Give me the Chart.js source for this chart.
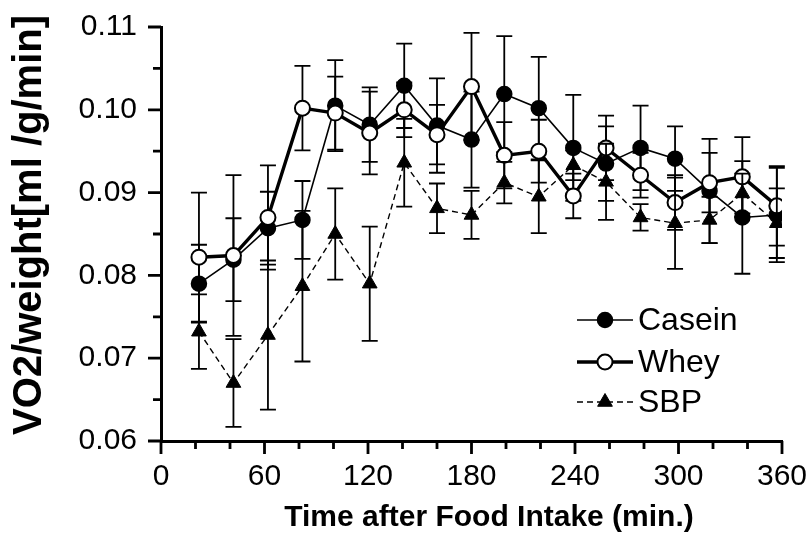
<!DOCTYPE html>
<html>
<head>
<meta charset="utf-8">
<script src="https://cdn.jsdelivr.net/npm/chart.js@4.4.1/dist/chart.umd.min.js"></script>
<style>
  html, body { margin: 0; padding: 0; background: #fff; }
  #wrap { width: 811px; height: 534px; }
</style>
</head>
<body>
<div id="wrap"><canvas id="myChart" width="811" height="534"></canvas></div>
<script>
// sampling times, min after food intake
const times = [22, 42, 62, 82, 101, 121, 141, 160, 180, 199, 219, 239, 258, 278, 298, 318, 337, 357];

// VO2/weight means and error half-widths per diet
const casein    = [0.0790, 0.0819, 0.0857, 0.0867, 0.1005, 0.0982, 0.1029, 0.0981, 0.0964, 0.1019, 0.1002, 0.0954, 0.0935, 0.0954, 0.0941, 0.0902, 0.0870, 0.0873];
const caseinErr = [0.0047, 0.0050, 0.0044, 0.0047, 0.0055, 0.0045, 0.0051, 0.0057, 0.0058, 0.0070, 0.0062, 0.0064, 0.0045, 0.0051, 0.0039, 0.0063, 0.0068, 0.0057];

const whey    = [0.0822, 0.0824, 0.0870, 0.1002, 0.0996, 0.0972, 0.1000, 0.0970, 0.1028, 0.0945, 0.0950, 0.0896, 0.0954, 0.0921, 0.0888, 0.0912, 0.0919, 0.0884];
const wheyErr = [0.0078, 0.0097, 0.0063, 0.0051, 0.0044, 0.0050, 0.0033, 0.0036, 0.0065, 0.0040, 0.0038, 0.0027, 0.0039, 0.0027, 0.0033, 0.0036, 0.0048, 0.0048];

const sbp    = [0.0732, 0.0670, 0.0728, 0.0787, 0.0850, 0.0790, 0.0936, 0.0881, 0.0873, 0.0912, 0.0895, 0.0933, 0.0913, 0.0870, 0.0863, 0.0867, 0.0899, 0.0863];
const sbpErr = [0.0045, 0.0053, 0.0090, 0.0091, 0.0055, 0.0069, 0.0053, 0.0030, 0.0029, 0.0025, 0.0044, 0.0018, 0.0046, 0.0016, 0.0055, 0.0028, 0.0024, 0.0042];

const xMajor = [0, 60, 120, 180, 240, 300, 360];
const xMinor = [20, 40, 80, 100, 140, 160, 200, 220, 260, 280, 320, 340];
const yMajor = [0.06, 0.07, 0.08, 0.09, 0.10, 0.11];
const yMinor = [0.065, 0.075, 0.085, 0.095, 0.105];

const FONT = '"Liberation Sans", Arial, Helvetica, sans-serif';

function toPoints(ys) {
    return times.map((t, i) => ({ x: t, y: ys[i] }));
}

// vertical error bars with caps, drawn just under each series
const errorBars = {
    id: 'errorBars',
    beforeDatasetDraw(chart, args) {
        const ds = chart.data.datasets[args.index];
        if (!ds.errors) return;
        const ctx = chart.ctx;
        const y = chart.scales.y;
        ctx.save();
        ctx.strokeStyle = '#000';
        ctx.lineWidth = 1.8;
        ctx.setLineDash([]);
        args.meta.data.forEach((pt, i) => {
            const v = ds.data[i].y, e = ds.errors[i];
            const top = y.getPixelForValue(v + e);
            const bot = y.getPixelForValue(v - e);
            ctx.beginPath();
            ctx.moveTo(pt.x, top); ctx.lineTo(pt.x, bot);
            ctx.moveTo(pt.x - 8, top); ctx.lineTo(pt.x + 8, top);
            ctx.moveTo(pt.x - 8, bot); ctx.lineTo(pt.x + 8, bot);
            ctx.stroke();
        });
        ctx.restore();
    }
};

// outward tick marks, axis titles and the line+marker legend
const decorations = {
    id: 'decorations',
    afterDraw(chart) {
        const ctx = chart.ctx;
        const xs = chart.scales.x, ys = chart.scales.y;
        const area = chart.chartArea;
        ctx.save();
        ctx.strokeStyle = '#000';
        ctx.lineWidth = 2.8;
        ctx.beginPath();
        xMajor.forEach(v => { const p = xs.getPixelForValue(v); ctx.moveTo(p, area.bottom); ctx.lineTo(p, area.bottom + 13); });
        xMinor.forEach(v => { const p = xs.getPixelForValue(v); ctx.moveTo(p, area.bottom); ctx.lineTo(p, area.bottom + 8); });
        yMajor.forEach(v => { const p = ys.getPixelForValue(v); ctx.moveTo(area.left, p); ctx.lineTo(area.left - 13, p); });
        yMinor.forEach(v => { const p = ys.getPixelForValue(v); ctx.moveTo(area.left, p); ctx.lineTo(area.left - 8, p); });
        ctx.stroke();

        ctx.fillStyle = '#000';
        ctx.textAlign = 'center';
        ctx.textBaseline = 'alphabetic';
        ctx.font = 'bold 30px ' + FONT;
        ctx.fillText('Time after Food Intake (min.)', 489, 526);

        ctx.save();
        ctx.translate(41, 225);
        ctx.rotate(-Math.PI / 2);
        ctx.font = 'bold 40px ' + FONT;
        ctx.fillText('VO2/weight[ml /g/min]', 0, 0);
        ctx.restore();

        // legend
        const rows = [320, 362, 402];
        chart.data.datasets.forEach((ds, i) => {
            const yy = rows[i];
            ctx.strokeStyle = '#000';
            ctx.lineWidth = ds.borderWidth;
            ctx.setLineDash(ds.borderDash || []);
            ctx.beginPath();
            ctx.moveTo(577, yy); ctx.lineTo(633, yy);
            ctx.stroke();
            ctx.setLineDash([]);
            ctx.fillStyle = ds.pointBackgroundColor;
            ctx.lineWidth = ds.pointBorderWidth;
            Chart.helpers.drawPoint(ctx, {
                pointStyle: ds.pointStyle, radius: ds.pointRadius,
                borderWidth: ds.pointBorderWidth, rotation: 0
            }, 605, yy);
            ctx.fillStyle = '#000';
            ctx.textAlign = 'left';
            ctx.textBaseline = 'middle';
            ctx.font = '32px ' + FONT;
            ctx.fillText(ds.label, 638, yy + 1);
        });
        ctx.restore();
    }
};

const ctx = document.getElementById('myChart');
const myChart = new Chart(ctx, {
    type: 'line',
    data: {
        datasets: [{
            label: 'Casein',
            data: toPoints(casein),
            errors: caseinErr,
            borderColor: '#000',
            borderWidth: 1.6,
            pointStyle: 'circle',
            pointRadius: 7.5,
            pointBorderWidth: 1.5,
            pointBorderColor: '#000',
            pointBackgroundColor: '#000',
            order: 3
        }, {
            label: 'Whey',
            data: toPoints(whey),
            errors: wheyErr,
            borderColor: '#000',
            borderWidth: 3.4,
            pointStyle: 'circle',
            pointRadius: 7.5,
            pointBorderWidth: 2,
            pointBorderColor: '#000',
            pointBackgroundColor: '#fff',
            order: 2
        }, {
            label: 'SBP',
            data: toPoints(sbp),
            errors: sbpErr,
            borderColor: '#000',
            borderWidth: 1.4,
            borderDash: [6, 4],
            pointStyle: 'triangle',
            pointRadius: 8.5,
            pointBorderWidth: 1,
            pointBorderColor: '#000',
            pointBackgroundColor: '#000',
            order: 1
        }]
    },
    options: {
        responsive: false,
        animation: false,
        events: [],
        layout: {
            padding: { top: 27, right: 29, left: 0, bottom: 0 }
        },
        plugins: {
            legend: { display: false },
            tooltip: { enabled: false }
        },
        scales: {
            x: {
                type: 'linear',
                min: 0,
                max: 360,
                grid: { display: false, drawTicks: false },
                border: { display: true, width: 3, color: '#000' },
                ticks: {
                    stepSize: 60,
                    autoSkip: false,
                    maxRotation: 0,
                    padding: 18,
                    color: '#000',
                    font: { family: FONT, size: 30 }
                },
                afterFit(scale) {
                    scale.height = 93;
                    scale.paddingLeft = 0;
                    scale.paddingRight = 0;
                }
            },
            y: {
                type: 'linear',
                min: 0.06,
                max: 0.11,
                grid: { display: false, drawTicks: false },
                border: { display: true, width: 3, color: '#000' },
                ticks: {
                    stepSize: 0.01,
                    padding: 24,
                    color: '#000',
                    font: { family: FONT, size: 30 },
                    callback: v => v.toFixed(2)
                },
                afterFit(scale) {
                    scale.width = 161;
                    scale.paddingTop = 0;
                    scale.paddingBottom = 0;
                }
            }
        }
    },
    plugins: [errorBars, decorations]
});
</script>
</body>
</html>
